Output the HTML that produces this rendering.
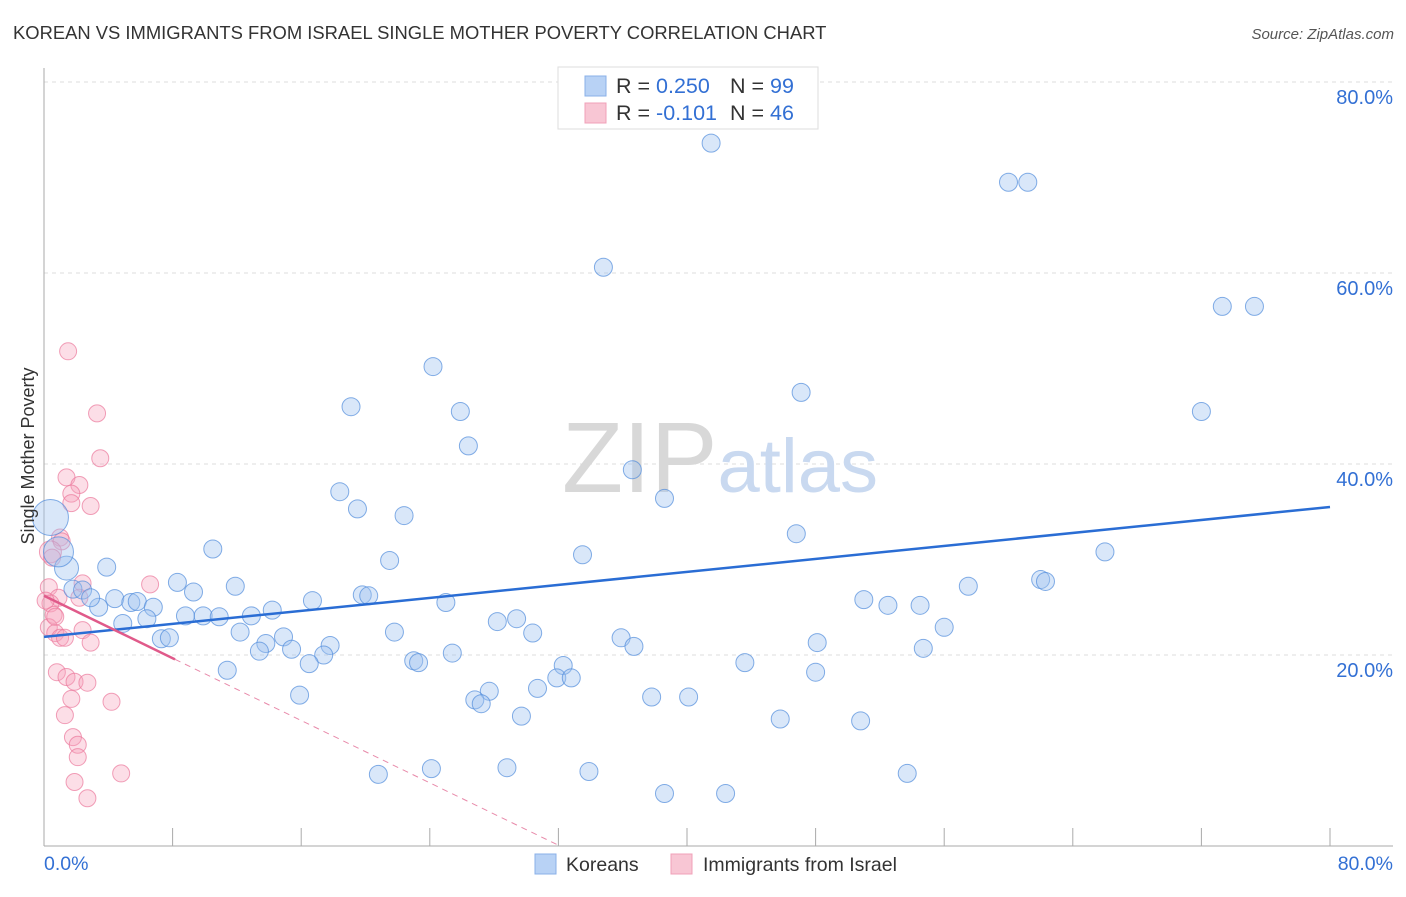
<!DOCTYPE html>
<html><head><meta charset="utf-8"><style>
body{margin:0;background:#fff;font-family:"Liberation Sans",sans-serif}
text{font-family:"Liberation Sans",sans-serif}
</style></head><body>
<svg id="chart" width="1406" height="892" xmlns="http://www.w3.org/2000/svg">
<text x="13" y="39" font-size="18.4" fill="#333">KOREAN VS IMMIGRANTS FROM ISRAEL SINGLE MOTHER POVERTY CORRELATION CHART</text>
<text x="1394" y="39" font-size="15" fill="#555" text-anchor="end" font-style="italic">Source: ZipAtlas.com</text>
<g id="grid"></g>
<text x="720" y="492" font-size="100" text-anchor="middle" fill="#ddd" font-family="Liberation Serif"><tspan fill="#d8d8d8">ZIP</tspan><tspan fill="#c9d9f0" font-family="Liberation Sans" font-size="76">atlas</tspan></text>
<g id="marks"></g>
<text transform="translate(34,456) rotate(-90)" font-size="18" fill="#333" text-anchor="middle">Single Mother Poverty</text>
<g>
<rect x="558" y="67" width="260" height="62" fill="#fff" stroke="#ddd"/>
<rect x="585" y="76" width="21" height="20" fill="#b8d2f5" stroke="#8ab0e8"/>
<rect x="585" y="103" width="21" height="20" fill="#f8c6d4" stroke="#f0a0b8"/>
<text x="616" y="93" font-size="21.5" fill="#333">R = <tspan fill="#3370d4">0.250</tspan><tspan x="730">N = </tspan><tspan fill="#3370d4">99</tspan></text>
<text x="616" y="120" font-size="21.5" fill="#333">R = <tspan fill="#3370d4">-0.101</tspan><tspan x="730">N = </tspan><tspan fill="#3370d4">46</tspan></text>
</g>
<g>
<rect x="535" y="854" width="21" height="20" fill="#b8d2f5" stroke="#8ab0e8"/>
<text x="566" y="871" font-size="19.5" fill="#333">Koreans</text>
<rect x="671" y="854" width="21" height="20" fill="#f8c6d4" stroke="#f0a0b8"/>
<text x="703" y="871" font-size="19.5" fill="#333">Immigrants from Israel</text>
</g>
</svg>
<script>
const yTicks=[20,40,60,80];
const xTickVals=[0,8,16,24,32,40,48,56,64,72,80];
const koreanX=[41.5,60.0,61.2,34.8,73.3,75.3,24.2,47.1,19.1,25.9,72.0,26.4,36.6,38.6,18.4,19.5,22.4,46.8,10.5,33.5,66.0,21.5,3.9,8.3,11.9,9.3,57.5,62.0,62.3,51.0,52.5,54.5,4.4,5.4,5.8,6.8,3.4,16.7,19.8,20.2,25.0,14.2,8.8,9.9,10.9,12.9,6.4,4.9,28.2,29.4,30.4,12.2,21.8,56.0,7.3,7.8,14.9,13.8,13.4,15.4,17.8,17.4,35.9,36.7,48.1,54.7,11.4,16.5,23.0,23.3,25.4,43.6,32.3,48.0,31.9,32.8,30.7,27.7,26.8,27.2,37.8,40.1,15.9,29.7,45.8,50.8,20.8,24.1,28.8,33.9,53.7,38.6,42.4,1.8,2.4,2.9,1.4,0.9,0.4];
const koreanY=[73.6,69.5,69.5,60.6,56.5,56.5,50.2,47.5,46.0,45.5,45.5,41.9,39.4,36.4,37.1,35.3,34.6,32.7,31.1,30.5,30.8,29.9,29.2,27.6,27.2,26.6,27.2,27.9,27.7,25.8,25.2,25.2,25.9,25.5,25.6,25.0,25.0,25.7,26.3,26.2,25.5,24.7,24.1,24.1,24.0,24.1,23.8,23.3,23.5,23.8,22.3,22.4,22.4,22.9,21.7,21.8,21.9,21.2,20.4,20.6,21.0,20.0,21.8,20.9,21.3,20.7,18.4,19.1,19.4,19.2,20.2,19.2,18.9,18.2,17.6,17.6,16.5,16.2,15.3,14.9,15.6,15.6,15.8,13.6,13.3,13.1,7.5,8.1,8.2,7.8,7.6,5.5,5.5,26.9,26.8,26.0,29.1,30.8,34.4];
const israelX=[1.5,3.3,3.5,1.4,2.2,1.7,1.7,2.9,1.0,1.1,0.4,0.5,6.6,2.4,0.3,0.9,2.2,0.4,0.6,0.3,0.7,1.0,1.3,2.4,2.9,0.8,1.4,1.9,2.7,1.7,4.2,1.3,1.8,2.1,2.1,4.8,1.9,2.7,0.7,0.1];
const israelY=[51.8,45.3,40.6,38.6,37.8,36.9,35.9,35.6,32.3,31.9,30.8,30.2,27.4,27.5,27.1,26.0,26.0,25.4,24.2,22.9,22.3,21.8,21.8,22.6,21.3,18.2,17.7,17.2,17.1,15.4,15.1,13.7,11.4,10.6,9.3,7.6,6.7,5.0,24.0,25.7];
const koreanTrend=[21.9,35.5];
const israelTrend=[26.2,0];
const israelSolidEnd=8.15, israelZeroX=32.1;
const NS='http://www.w3.org/2000/svg';
const X=v=>44+v*16.075, Y=v=>846-v*9.55;
function mk(tag,attrs,parent){const e=document.createElementNS(NS,tag);for(const k in attrs)e.setAttribute(k,attrs[k]);parent.appendChild(e);return e;}
const grid=document.getElementById('grid'), marks=document.getElementById('marks');
yTicks.forEach(t=>{
 const l=mk('line',{x1:44,x2:1393,y1:Y(t),y2:Y(t),stroke:'#ddd','stroke-dasharray':'4,4'},grid);
 
 
 const tx=mk('text',{x:1393,y:Y(t)+22,'font-size':20,fill:'#3370d4','text-anchor':'end'},grid);
 tx.textContent=t.toFixed(1)+'%';
 
 
});
const ax=mk('line',{x1:44,x2:44,y1:68,y2:846,stroke:'#aaa'},grid);


const bx=mk('line',{x1:44,x2:1393,y1:846,y2:846,stroke:'#aaa'},grid);


xTickVals.forEach(t=>{
 const l=mk('line',{x1:X(t),x2:X(t),y1:828,y2:846,stroke:'#aaa'},grid);
 
 
});
[[0,'start',44],[80,'end',1393]].forEach(([t,a,px])=>{
 const tx=mk('text',{x:px,y:870,'font-size':19.5,fill:'#3370d4','text-anchor':a},grid);
 tx.textContent=t.toFixed(1)+'%';
 
 
});
israelX.forEach((x,i)=>{
 const c=mk('circle',{cx:X(x),cy:Y(israelY[i]),r:(i==10?11:8.5),fill:'rgba(245,160,185,0.35)',stroke:'rgba(235,120,155,0.7)','stroke-width':1},marks);
 
 
});
koreanX.forEach((x,i)=>{
 const n=koreanX.length; let r=9;
 if(i==n-1)r=18; else if(i==n-2)r=15; else if(i==n-3)r=12;
 const c=mk('circle',{cx:X(x),cy:Y(koreanY[i]),r:r,fill:'rgba(160,195,240,0.4)',stroke:'rgba(80,140,220,0.7)','stroke-width':1},marks);
 
 
});
const tl=mk('line',{x1:X(0),y1:Y(koreanTrend[0]),x2:X(80),y2:Y(koreanTrend[1]),stroke:'#2a6dd4','stroke-width':2.5},marks);


const slope=(israelTrend[1]-israelTrend[0])/israelZeroX;
const p1=mk('line',{x1:X(0),y1:Y(israelTrend[0]),x2:X(israelSolidEnd),y2:Y(israelTrend[0]+slope*israelSolidEnd),stroke:'#e05a8a','stroke-width':2.5},marks);


const p2=mk('line',{x1:X(israelSolidEnd),y1:Y(israelTrend[0]+slope*israelSolidEnd),x2:X(israelZeroX),y2:Y(israelTrend[1]),stroke:'#e88aaa','stroke-width':1,'stroke-dasharray':'6,5'},marks);


</script>
</body></html>
